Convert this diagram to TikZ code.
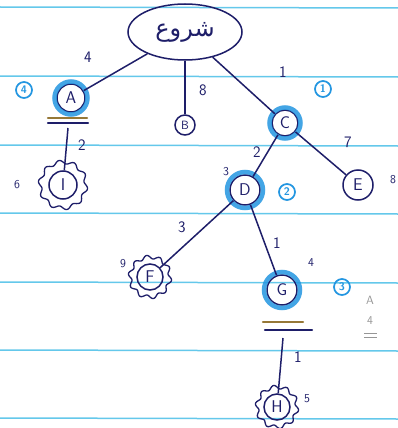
\documentclass[tikz,border=0pt]{standalone}
\usepackage{fontspec}
\newfontfamily\arabicfont[Script=Arabic]{DejaVu Sans}
\TeXXeTstate=1
\usetikzlibrary{shapes.geometric}
\definecolor{ink}{RGB}{30,30,105}
\definecolor{hl}{RGB}{35,150,225}
\definecolor{ruled}{RGB}{100,200,235}
\definecolor{gold}{RGB}{150,120,55}
\definecolor{pencil}{RGB}{150,150,150}
\begin{document}
\begin{tikzpicture}[x=1pt,y=-1pt,
 every node/.style={text=ink},
 conn/.style={draw=ink, line width=1.5pt},
 letter/.style={circle, draw=ink, line width=1.5pt, inner sep=0pt, font=\sffamily\fontsize{17}{17}\selectfont},
 ring/.style={draw=hl, line width=4.5pt, opacity=0.85},
 cost/.style={font=\sffamily\fontsize{16}{16}\selectfont, inner sep=0pt},
 small/.style={font=\sffamily\fontsize{12}{12}\selectfont, inner sep=0pt},
 badge/.style={circle, draw=hl, text=hl, line width=1.7pt, minimum size=16pt, inner sep=0pt, font=\sffamily\bfseries\fontsize{11}{11}\selectfont},
 wavy/.style={draw=ink, line width=1.3pt},
 underl/.style={line width=2.3pt, line cap=round},
 note/.style={text=pencil, font=\sffamily\fontsize{12}{12}\selectfont, inner sep=0pt},
]
\fill[white] (0,0) rectangle (398,428);
\useasboundingbox (0,0) rectangle (398,428);
\foreach \y in {7,76,145,213,282,350,418} \draw[ruled, line width=1.5pt] (0,\y) -- (398,\y+1);

% nodes
\node[ellipse, draw=ink, line width=1.5pt, minimum width=114pt, minimum height=56pt, font=\arabicfont\fontsize{24}{24}\selectfont] (S) at (185,32) {\beginR شروع\endR};
\node[letter, minimum size=28pt] (A) at (71,98) {A};
\node[letter, minimum size=20pt, font=\sffamily\fontsize{12}{12}\selectfont] (B) at (185,125) {B};
\node[letter, minimum size=26pt] (C) at (285,123) {C};
\node[letter, minimum size=28pt] (I) at (63,185) {I};
\node[letter, minimum size=30pt] (D) at (245,190) {D};
\node[letter, minimum size=30pt] (E) at (358,185) {E};
\node[letter, minimum size=26pt] (F) at (150,277) {F};
\node[letter, minimum size=30pt] (G) at (282,290) {G};
\node[letter, minimum size=26pt] (H) at (277,407) {H};

% visited rings
\draw[ring] (A) circle (16.5pt);
\draw[ring] (C) circle (15.5pt);
\draw[ring] (D) circle (18pt);
\draw[ring] (G) circle (18pt);

% wavy outlines
\draw[wavy, shift={(I.center)}] plot[smooth cycle, domain=0:357, samples=120] (\x:{23+1.8*sin(10*\x)});
\draw[wavy, shift={(F.center)}] plot[smooth cycle, domain=0:357, samples=120] (\x:{20+1.8*sin(10*\x)});
\draw[wavy, shift={(H.center)}] plot[smooth cycle, domain=0:357, samples=120] (\x:{20+1.8*sin(10*\x)});

% edges
\coordinate (Au) at (68,128);
\coordinate (Gu) at (283,338);
\draw[conn] (S) -- (A);
\draw[conn] (S) -- (B);
\draw[conn] (S) -- (C);
\draw[conn] (Au) -- (I);
\draw[conn] (C) -- (E);
\draw[conn] (C) -- (D);
\draw[conn] (D) -- (F);
\draw[conn] (D) -- (G);
\draw[conn] (Gu) -- (H);

% underlines
\draw[underl, gold] (48,118) -- (87,118);
\draw[underl, ink] (48,123) -- (88,123);
\draw[underl, gold] (263,322) -- (303,322);
\draw[underl, ink] (265,330) -- (312,330);

% edge costs
\node[cost] (c1) at (88,57) {4};
\node[cost] (c2) at (203,90) {8};
\node[cost] (c3) at (283,72) {1};
\node[cost] (c4) at (82,145) {2};
\node[cost] (c5) at (348,142) {7};
\node[cost] (c6) at (257,152) {2};
\node[cost] (c7) at (182,227) {3};
\node[cost] (c8) at (277,243) {1};
\node[cost] (c9) at (298,357) {1};

% node values
\node[small] (v1) at (17,185) {6};
\node[small] (v2) at (393,180) {8};
\node[small] (v3) at (226,172) {3};
\node[small] (v4) at (123,264) {9};
\node[small] (v5) at (311,263) {4};
\node[small] (v6) at (307,399) {5};

% order badges
\node[badge] (b1) at (24,90) {4};
\node[badge] (b2) at (323,89) {1};
\node[badge] (b3) at (287,192) {2};
\node[badge] (b4) at (342,287) {3};

% pencil note
\node[note] (n1) at (370,300) {A};
\node[note] (n2) at (370,321) {4};
\draw[pencil, line width=0.9pt] (364,333) -- (377,333);
\draw[pencil, line width=0.9pt] (364,337) -- (377,337);
\end{tikzpicture}
\end{document}
